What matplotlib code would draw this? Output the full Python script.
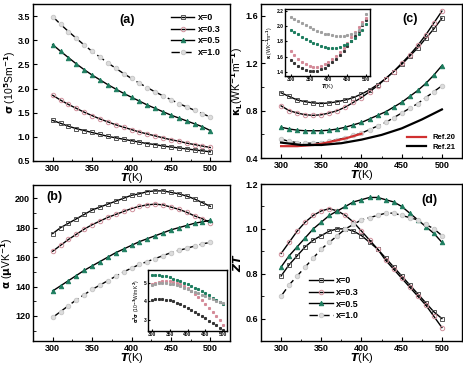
import numpy as np
import matplotlib.pyplot as plt

plt.rcParams['font.family'] = ['Liberation Sans', 'DejaVu Sans']
plt.rcParams['font.weight'] = 'bold'
plt.rcParams['mathtext.default'] = 'bf'

T = np.arange(300, 501, 10)
labels = ["x=0", "x=0.3", "x=0.5", "x=1.0"]

# (a) electrical conductivity, 10^5 S/m
sig0 = [1.34, 1.28, 1.22, 1.17, 1.13, 1.09, 1.05, 1.01, 0.98, 0.95, 0.92,
        0.89, 0.86, 0.84, 0.81, 0.79, 0.77, 0.75, 0.73, 0.71, 0.69]
sig3 = [1.86, 1.76, 1.67, 1.59, 1.51, 1.44, 1.37, 1.31, 1.25, 1.20, 1.15,
        1.10, 1.06, 1.02, 0.98, 0.94, 0.91, 0.87, 0.84, 0.81, 0.78]
sig5 = [2.91, 2.77, 2.64, 2.51, 2.39, 2.28, 2.18, 2.08, 1.99, 1.90, 1.82,
        1.74, 1.66, 1.59, 1.52, 1.45, 1.39, 1.33, 1.27, 1.21, 1.13]
sig10 = [3.49, 3.33, 3.18, 3.04, 2.90, 2.77, 2.65, 2.53, 2.42, 2.31, 2.21,
         2.11, 2.02, 1.93, 1.85, 1.77, 1.69, 1.62, 1.55, 1.48, 1.41]

# (b) Seebeck coefficient, uV/K
alp0 = [176, 180, 183, 186, 189, 192, 194, 196, 198, 200, 202,
        203, 204.5, 205, 205, 204, 203, 201.5, 199.5, 197, 194.5]
alp3 = [164, 168, 172, 175.5, 179, 182, 184.5, 187, 189, 191, 193,
        194.5, 195.5, 196, 195.5, 194, 192.5, 190.5, 188, 186, 183.5]
alp5 = [137, 140.5, 144, 147.5, 151, 154, 157, 160, 163, 165.5, 168,
        170.5, 172.5, 174.5, 176.5, 178.5, 180, 181.5, 183, 184, 185]
alp10 = [119, 123, 127, 131, 134.5, 138, 141, 144, 147, 150, 152.5,
         155, 157, 159, 161, 163, 164.5, 166, 167.5, 169, 170]

# (b) inset power factor
pf0 = [4.10, 4.12, 4.13, 4.12, 4.10, 4.06, 4.01, 3.94, 3.86, 3.77, 3.67,
       3.56, 3.45, 3.33, 3.21, 3.09, 2.96, 2.84, 2.71, 2.58, 2.45]
pf3 = [4.95, 5.02, 5.07, 5.10, 5.11, 5.10, 5.06, 5.00, 4.92, 4.82, 4.70,
       4.56, 4.41, 4.24, 4.06, 3.87, 3.66, 3.44, 3.21, 2.97, 2.72]
pf5 = [5.45, 5.44, 5.42, 5.39, 5.35, 5.30, 5.24, 5.17, 5.10, 5.02, 4.94,
       4.85, 4.75, 4.65, 4.55, 4.44, 4.33, 4.21, 4.09, 3.97, 3.85]
pf10 = [4.90, 4.95, 4.98, 4.99, 4.98, 4.96, 4.92, 4.87, 4.81, 4.74, 4.67,
        4.59, 4.51, 4.43, 4.35, 4.27, 4.19, 4.12, 4.05, 3.98, 3.92]

# (c) lattice thermal conductivity
kap0 = [0.95, 0.92, 0.89, 0.875, 0.865, 0.86, 0.865, 0.875, 0.89, 0.91, 0.94,
        0.975, 1.02, 1.07, 1.13, 1.19, 1.26, 1.33, 1.41, 1.49, 1.58]
kap3 = [0.84, 0.80, 0.78, 0.765, 0.76, 0.765, 0.78, 0.80, 0.83, 0.87, 0.91,
        0.96, 1.01, 1.07, 1.13, 1.20, 1.27, 1.35, 1.44, 1.54, 1.64]
kap5 = [0.66, 0.645, 0.635, 0.63, 0.63, 0.63, 0.635, 0.645, 0.66, 0.68, 0.70,
        0.73, 0.76, 0.79, 0.83, 0.87, 0.92, 0.97, 1.03, 1.10, 1.18]
kap10 = [0.56, 0.54, 0.53, 0.525, 0.525, 0.53, 0.54, 0.555, 0.57, 0.59, 0.61,
         0.64, 0.67, 0.70, 0.74, 0.78, 0.82, 0.86, 0.91, 0.96, 1.01]
T_ref20 = [300, 310, 320, 330, 340, 350, 360, 370, 380, 390, 400]
ref20 = [0.50, 0.50, 0.50, 0.505, 0.51, 0.52, 0.535, 0.55, 0.565, 0.585, 0.605]
T_ref21 = [300, 325, 350, 375, 400, 425, 450, 475, 500]
ref21 = [0.53, 0.51, 0.51, 0.525, 0.555, 0.595, 0.65, 0.725, 0.81]

# (c) inset total thermal conductivity
kt0 = [1.56, 1.52, 1.48, 1.45, 1.43, 1.42, 1.42, 1.42, 1.44, 1.46, 1.49,
       1.53, 1.57, 1.62, 1.68, 1.74, 1.80, 1.87, 1.94, 2.01, 2.08]
kt3 = [1.67, 1.62, 1.57, 1.53, 1.50, 1.48, 1.47, 1.47, 1.48, 1.50, 1.53,
       1.57, 1.61, 1.66, 1.72, 1.78, 1.85, 1.92, 1.99, 2.05, 2.10]
kt5 = [1.95, 1.92, 1.89, 1.86, 1.83, 1.80, 1.78, 1.76, 1.74, 1.73, 1.72,
       1.72, 1.72, 1.73, 1.75, 1.77, 1.80, 1.84, 1.89, 1.95, 2.02]
kt10 = [2.11, 2.09, 2.06, 2.04, 2.01, 1.99, 1.96, 1.94, 1.92, 1.90, 1.89,
        1.88, 1.87, 1.87, 1.87, 1.88, 1.89, 1.91, 1.95, 2.02, 2.15]

# (d) ZT
zt0 = [0.79, 0.84, 0.88, 0.92, 0.95, 0.97, 0.99, 1.00, 1.00, 0.99, 0.97,
       0.94, 0.91, 0.87, 0.83, 0.79, 0.75, 0.71, 0.67, 0.63, 0.60]
zt3 = [0.89, 0.94, 0.99, 1.03, 1.06, 1.08, 1.09, 1.08, 1.06, 1.03, 0.99,
       0.95, 0.91, 0.86, 0.82, 0.78, 0.74, 0.70, 0.66, 0.61, 0.56]
zt5 = [0.83, 0.88, 0.92, 0.96, 1.00, 1.03, 1.06, 1.08, 1.10, 1.12, 1.13,
       1.14, 1.14, 1.13, 1.12, 1.10, 1.07, 1.04, 1.01, 0.98, 0.94]
zt10 = [0.70, 0.75, 0.79, 0.83, 0.87, 0.91, 0.94, 0.97, 1.00, 1.02, 1.04,
        1.05, 1.06, 1.07, 1.07, 1.06, 1.05, 1.04, 1.02, 1.00, 0.97]

# marker styles for x = 0, 0.3, 0.5, 1.0
sty = [dict(marker='s', mfc='none', mec='#555555', ls='-'),
       dict(marker='o', mfc='none', mec='#d0909c', ls='-'),
       dict(marker='^', mfc='#1d7d5f', mec='#1d7d5f', ls='-'),
       dict(marker='o', mfc='#dddddd', mec='#c8c8c8', ls=(0, (6, 2.5)))]
dot_cols = ['#333333', '#d48a98', '#1d7d5f', '#a0a0a0']


def px(l, t, r, b):
    return [l / 464, 1 - b / 366, (r - l) / 464, (b - t) / 366]


def style(ax, fs=6.5):
    ax.tick_params(direction='in', labelsize=fs, length=3, width=0.8, pad=2)
    ax.tick_params(which='minor', direction='in', length=1.8, width=0.6)
    for s in ax.spines.values():
        s.set_linewidth(1.0)
    for lab in ax.get_xticklabels() + ax.get_yticklabels():
        lab.set_fontweight('bold')


def draw(ax, series):
    for y, st, lb in zip(series, sty, labels):
        ax.plot(T, y, color='black', lw=1.0, ms=3.2, mew=0.7, label=lb, **st)


def xlab(ax):
    ax.set_xlabel(r'$\mathit{T}$(K)', fontsize=8, labelpad=-1)


fig = plt.figure(figsize=(4.64, 3.66), dpi=100)

# ---- (a)
axa = fig.add_axes(px(33, 4, 230, 161))
draw(axa, [sig0, sig3, sig5, sig10])
axa.set_xlim(275, 525)
axa.set_ylim(0.5, 3.75)
axa.set_xticks([300, 350, 400, 450, 500])
axa.set_xticks([325, 375, 425, 475], minor=True)
axa.set_yticks([0.5, 1.0, 1.5, 2.0, 2.5, 3.0, 3.5])
style(axa)
xlab(axa)
axa.set_ylabel(r'$\sigma$ (10$^5$Sm$^{-1}$)', fontsize=7.5, labelpad=0)
axa.text(0.48, 0.9, '(a)', transform=axa.transAxes, fontsize=9,
         ha='center', va='center', fontweight='bold')
axa.legend(loc='upper right', frameon=False, fontsize=6.5, handlelength=2.6,
           labelspacing=0.3, borderaxespad=0.6, handletextpad=0.4)

# ---- (b)
axb = fig.add_axes(px(33, 185, 230, 341))
draw(axb, [alp0, alp3, alp5, alp10])
axb.set_xlim(275, 525)
axb.set_ylim(103, 209)
axb.set_xticks([300, 350, 400, 450, 500])
axb.set_xticks([325, 375, 425, 475], minor=True)
axb.set_yticks([120, 140, 160, 180, 200])
axb.set_yticks([110, 130, 150, 170, 190], minor=True)
style(axb)
xlab(axb)
axb.set_ylabel(r'$\alpha$ ($\mu$VK$^{-1}$)', fontsize=7.5, labelpad=0)
axb.text(0.11, 0.92, '(b)', transform=axb.transAxes, fontsize=9,
         ha='center', va='center', fontweight='bold')

# inset of (b)
ib = fig.add_axes(px(148, 270, 227, 331))
for y, c in zip([pf0, pf3, pf5, pf10], dot_cols):
    ib.plot(T, y, ls='none', marker='s', ms=1.2, color=c)
ib.set_xlim(290, 510)
ib.set_ylim(2.4, 5.7)
ib.set_xticks([300, 350, 400, 450, 500])
ib.set_yticks([3, 4, 5])
style(ib, fs=3.5)
ib.tick_params(length=1.5, pad=1)
ib.set_ylabel(r'$\alpha^2\sigma$ (10$^{-3}$W/m K$^2$)', fontsize=3.5, labelpad=1)

# ---- (c)
axc = fig.add_axes(px(261, 4, 462, 158))
draw(axc, [kap0, kap3, kap5, kap10])
r20, = axc.plot(T_ref20, ref20, color='#d03030', lw=1.6, label='Ref.20')
r21, = axc.plot(T_ref21, ref21, color='black', lw=1.6, label='Ref.21')
axc.set_xlim(275, 525)
axc.set_ylim(0.4, 1.7)
axc.set_xticks([300, 350, 400, 450, 500])
axc.set_xticks([325, 375, 425, 475], minor=True)
axc.set_yticks([0.4, 0.8, 1.2, 1.6])
axc.set_yticks([0.6, 1.0, 1.4], minor=True)
style(axc)
xlab(axc)
axc.set_ylabel(r'$\kappa_L$(WK$^{-1}$m$^{-1}$)', fontsize=7.5, labelpad=0)
axc.text(0.74, 0.9, '(c)', transform=axc.transAxes, fontsize=9,
         ha='center', va='center', fontweight='bold')
axc.legend(handles=[r20, r21], loc='lower right', frameon=False, fontsize=5.5,
           handlelength=2.5, labelspacing=0.3, borderaxespad=0.5)

# inset of (c)
ic = fig.add_axes(px(285, 9, 370, 76))
for y, c in zip([kt0, kt3, kt5, kt10], dot_cols):
    ic.plot(T, y, ls='none', marker='s', ms=1.2, color=c)
ic.set_xlim(285, 510)
ic.set_ylim(1.35, 2.22)
ic.set_xticks([300, 350, 400, 450, 500])
ic.set_yticks([1.4, 1.6, 1.8, 2.0, 2.2])
style(ic, fs=3.5)
ic.tick_params(length=1.5, pad=1)
ic.set_xlabel(r'$\mathit{T}$(K)', fontsize=4, labelpad=0)
ic.set_ylabel(r'$\kappa$ (WK$^{-1}$m$^{-1}$)', fontsize=3.5, labelpad=1)

# ---- (d)
axd = fig.add_axes(px(261, 184, 462, 341))
draw(axd, [zt0, zt3, zt5, zt10])
axd.set_xlim(275, 525)
axd.set_ylim(0.5, 1.2)
axd.set_xticks([300, 350, 400, 450, 500])
axd.set_xticks([325, 375, 425, 475], minor=True)
axd.set_yticks([0.6, 0.8, 1.0, 1.2])
axd.set_yticks([0.7, 0.9, 1.1], minor=True)
style(axd)
xlab(axd)
axd.set_ylabel(r'$\mathit{ZT}$', fontsize=8, labelpad=2)
axd.text(0.84, 0.9, '(d)', transform=axd.transAxes, fontsize=9,
         ha='center', va='center', fontweight='bold')
axd.legend(loc='lower left', bbox_to_anchor=(0.2, 0.08), frameon=False,
           fontsize=6.5, handlelength=2.6, labelspacing=0.3, handletextpad=0.4)

fig.savefig('out.png', dpi=100)
